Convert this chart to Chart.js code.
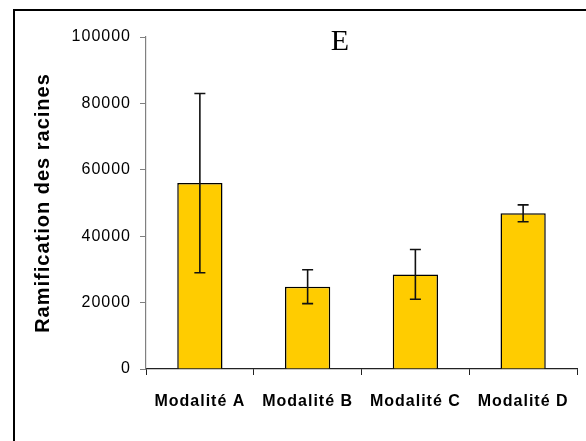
<!DOCTYPE html>
<html>
<head>
<meta charset="utf-8">
<script src="https://cdn.jsdelivr.net/npm/chart.js@4"></script>
<style>
    html, body { margin: 0; padding: 0; background: #fff; }
    #wrap { position: relative; width: 586px; height: 441px; overflow: hidden; }
    #frame { position: absolute; left: 13px; top: 9px; width: 600px; height: 460px;
             border-left: 2px solid #000; border-top: 2px solid #000; box-sizing: border-box; }
    canvas { position: absolute; left: 0; top: 0; }
</style>
</head>
<body>
<div id="wrap">
    <div id="frame"></div>
    <canvas id="chart" width="586" height="441"></canvas>
</div>
<script>
// ---- DATA ----
const categories = ['Modalité A', 'Modalité B', 'Modalité C', 'Modalité D'];
const means = [56000, 24800, 28500, 46900];
const errors = [27000, 5100, 7500, 2550];
const yTicks = [0, 20000, 40000, 60000, 80000, 100000];
const panelLabel = 'E';
const yTitle = 'Ramification des racines';

// ---- STYLE ----
const FONT = '"Liberation Sans", Arial, sans-serif';
const BAR = '#FFCC00';

// error bars drawn from the data through the scales
const errorBars = {
    id: 'errorBars',
    afterDatasetsDraw(chart) {
        const { ctx, scales: { x, y } } = chart;
        ctx.save();
        ctx.strokeStyle = '#111';
        ctx.lineWidth = 1.6;
        means.forEach((m, i) => {
            const cx = x.getPixelForValue(i);
            const hi = y.getPixelForValue(m + errors[i]);
            const lo = y.getPixelForValue(m - errors[i]);
            ctx.beginPath();
            ctx.moveTo(cx, hi); ctx.lineTo(cx, lo);
            ctx.moveTo(cx - 5.5, hi); ctx.lineTo(cx + 5.5, hi);
            ctx.moveTo(cx - 5.5, lo); ctx.lineTo(cx + 5.5, lo);
            ctx.stroke();
        });
        ctx.restore();
    }
};

// panel letter, placed relative to the chart area
const panelTitle = {
    id: 'panelTitle',
    afterDraw(chart) {
        const { ctx, chartArea: a } = chart;
        ctx.save();
        ctx.letterSpacing = '0px';
        ctx.font = '30px "Liberation Serif", "Times New Roman", serif';
        ctx.fillStyle = '#000';
        ctx.textAlign = 'center';
        ctx.textBaseline = 'alphabetic';
        ctx.fillText(panelLabel, a.left + (a.right - a.left) * 0.45, 50);
        ctx.restore();
    }
};

const spacing = {
    id: 'spacing',
    beforeDraw(chart) { chart.ctx.letterSpacing = '1px'; }
};

new Chart(document.getElementById('chart'), {
    type: 'bar',
    data: {
        labels: categories,
        datasets: [{
            data: means,
            backgroundColor: BAR,
            borderColor: '#000',
            borderWidth: 1.5,
            borderSkipped: 'bottom',
            categoryPercentage: 1,
            barPercentage: 0.42,
        }]
    },
    options: {
        responsive: false,
        animation: false,
        layout: { padding: { left: 0, right: 9, top: 37, bottom: 0 } },
        plugins: { legend: { display: false }, tooltip: { enabled: false }, title: { display: false } },
        scales: {
            x: {
                grid: { display: true, drawOnChartArea: false, offset: true, tickLength: 6, color: '#222' },
                border: { display: true, color: '#222', width: 1.2 },
                ticks: { color: '#000', padding: 17, font: { family: FONT, size: 16, weight: 'bold' }, maxRotation: 0 },
                afterFit(s) { s.height = 72; },
            },
            y: {
                min: 0, max: 100000,
                afterBuildTicks(s) { s.ticks = yTicks.map(v => ({ value: v })); },
                grid: { display: true, drawOnChartArea: false, tickLength: 6, color: '#808080' },
                border: { display: true, color: '#808080', width: 1.2 },
                ticks: { color: '#000', padding: 9, font: { family: FONT, size: 16 },
                         callback: v => String(v) },
                title: { display: true, text: yTitle, color: '#000',
                         font: { family: FONT, size: 20, weight: 'bold' }, padding: { top: 31, bottom: 0 } },
                afterFit(s) { s.width = 146; },
            }
        }
    },
    plugins: [errorBars, panelTitle, spacing]
});
</script>
</body>
</html>
